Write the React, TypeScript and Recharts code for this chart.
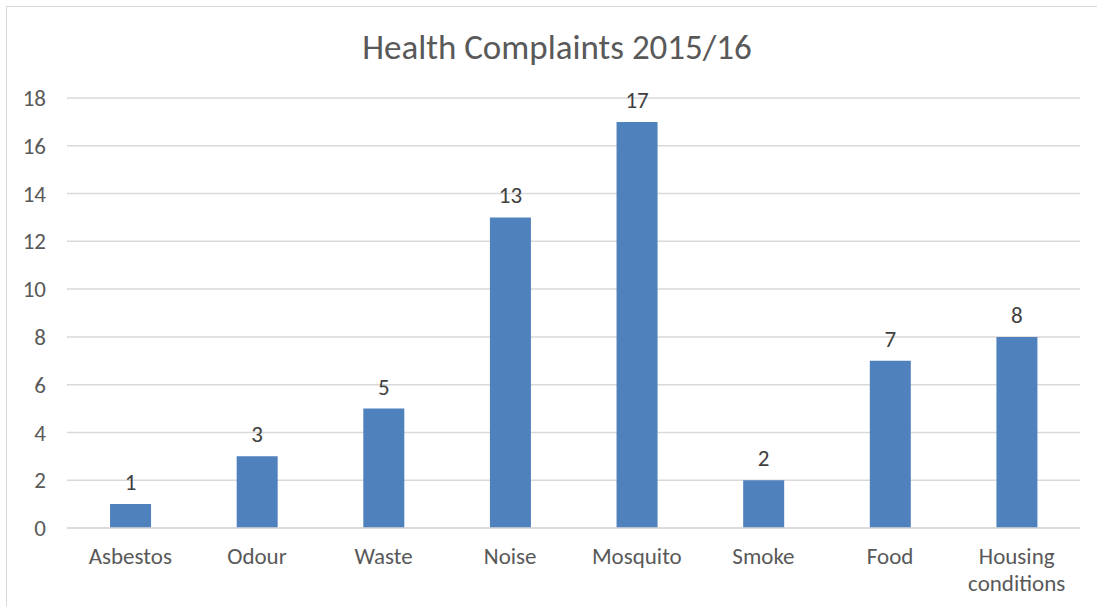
import { BarChart, Bar, XAxis, YAxis, CartesianGrid, LabelList } from 'recharts';

const categories = ['Asbestos', 'Odour', 'Waste', 'Noise', 'Mosquito', 'Smoke', 'Food', 'Housing conditions'];
const complaints = [1, 3, 5, 13, 17, 2, 7, 8];
const yTicks = [0, 2, 4, 6, 8, 10, 12, 14, 16, 18];

const data = categories.map((name, i) => ({ name, value: complaints[i] }));

const textColor = '#595959';
const fontFamily = 'Carlito, Calibri, "Open Sans", sans-serif';

function CategoryTick({ x, y, payload }: any) {
  const lines = String(payload.value).split(' ');
  return (
    <text x={x} y={y} textAnchor="middle" fill={textColor} fontSize={23} fontFamily={fontFamily}>
      {lines.map((line, i) => (
        <tspan key={i} x={x} dy={i === 0 ? 28 : 27}>
          {line}
        </tspan>
      ))}
    </text>
  );
}

export default function App() {
  return (
    <div style={{ position: 'absolute', left: 0, top: 0, width: 1097, height: 606, background: '#fff', overflow: 'hidden' }}>
      <div
        style={{
          position: 'absolute',
          left: 6,
          top: 6,
          width: 1200,
          height: 700,
          border: '1px solid #d9d9d9',
          boxSizing: 'border-box',
        }}
      />
      <div
        style={{
          position: 'absolute',
          left: 0,
          top: 25,
          width: 1114,
          textAlign: 'center',
          fontSize: 35,
          color: textColor,
          fontFamily,
          lineHeight: '44px',
        }}
      >
        Health Complaints 2015/16
      </div>
      <div style={{ position: 'absolute', left: 0, top: 0 }}>
        <BarChart
          width={1097}
          height={606}
          data={data}
          margin={{ top: 98, right: 17, bottom: 0, left: 0 }}
          barCategoryGap="34%"
        >
          <CartesianGrid vertical={false} stroke="#d9d9d9" strokeWidth={1.5} />
          <XAxis
            dataKey="name"
            interval={0}
            tickLine={false}
            axisLine={{ stroke: '#d9d9d9', strokeWidth: 1.5 }}
            tick={<CategoryTick />}
            height={78}
          />
          <YAxis
            width={67}
            domain={[0, 18]}
            ticks={yTicks}
            interval={0}
            axisLine={false}
            tickLine={false}
            tickMargin={15}
            tick={{ fill: textColor, fontSize: 23, fontFamily }}
          />
          <Bar dataKey="value" fill="#4F81BD" isAnimationActive={false}>
            <LabelList dataKey="value" position="top" offset={14} fill="#404040" fontSize={23} fontFamily={fontFamily} />
          </Bar>
        </BarChart>
      </div>
    </div>
  );
}
